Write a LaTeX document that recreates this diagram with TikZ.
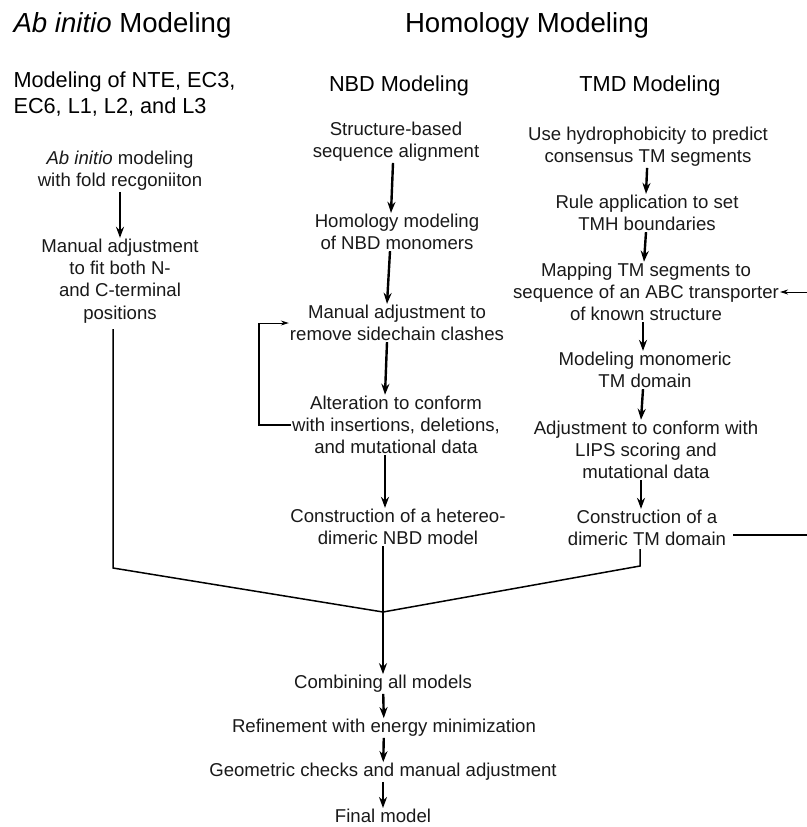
\documentclass[tikz,border=0pt]{standalone}
\usepackage{fontspec}
\setmainfont{Liberation Sans}
\usetikzlibrary{arrows.meta, positioning}
\newcommand{\TitleFont}{\fontsize{27.6}{32}\selectfont}
\newcommand{\HeadFont}{\fontsize{21.7}{26.5}\selectfont}
\newcommand{\StepFont}{\fontsize{18.6}{22.2}\selectfont}

\begin{document}
\begin{tikzpicture}[x=1pt, y=-1pt,
    stage/.style={align=center, inner sep=1pt, font=\StepFont, text=black!90},
    flow/.style={-{Stealth[length=11pt, width=8pt]}, line width=2.4pt},
    back/.style={-{Stealth[length=8pt, width=5pt]}, line width=1pt},
    merge/.style={line width=1.5pt}]
    \useasboundingbox (0,0) rectangle (806,827);

    % Headings
    \node[anchor=west, font=\TitleFont] (abhead) at (10,25) {\textit{Ab initio} Modeling};
    \node[font=\TitleFont] (homhead) at (527,25) {Homology Modeling};
    \node[anchor=west, align=left, font=\HeadFont] (loophead) at (10,94) {Modeling of NTE, EC3,\\EC6, L1, L2, and L3};
    \node[font=\HeadFont] (nbdhead) at (399,86) {NBD Modeling};
    \node[font=\HeadFont] (tmdhead) at (650,86) {TMD Modeling};

    % Ab initio column
    \node[stage] (ab1) at (120,171) {\textit{Ab initio} modeling\\with fold recgoniiton};
    \node[stage] (ab2) at (120,281) {Manual adjustment\\to fit both N-\\and C-terminal\\positions};

    % NBD column
    \node[stage] (nbd1) at (396,142) {Structure-based\\sequence alignment};
    \node[stage] (nbd2) at (397,232) {Homology modeling\\of NBD monomers};
    \node[stage] (nbd3) at (397,323) {Manual adjustment to\\remove sidechain clashes};
    \node[stage] (nbd4) at (396,425) {Alteration to conform\\with insertions, deletions,\\and mutational data};
    \node[stage] (nbd5) at (398,527) {Construction of a hetereo-\\dimeric NBD model};

    % TMD column
    \node[stage] (tmd1) at (648,147) {Use hydrophobicity to predict\\consensus TM segments};
    \node[stage] (tmd2) at (647,213) {Rule application to set\\TMH boundaries};
    \node[stage] (tmd3) at (646,292) {Mapping TM segments to\\sequence of an ABC transporter\\of known structure};
    \node[stage] (tmd4) at (645,370) {Modeling monomeric\\TM domain};
    \node[stage] (tmd5) at (646,450) {Adjustment to conform with\\LIPS scoring and\\mutational data};
    \node[stage] (tmd6) at (647,528) {Construction of a\\dimeric TM domain};

    % Final steps
    \node[stage] (comb) at (383,684) {Combining all models};
    \node[stage] (refine) at (384,728) {Refinement with energy minimization};
    \node[stage] (geom) at (383,772) {Geometric checks and manual adjustment};
    \node[stage] (final) at (383,816) {Final model};

    % Connectors
    \draw[flow] (ab1) -- (ab2);
    \draw[flow] ([xshift=-3pt]nbd1.south) -- ([xshift=-6pt]nbd2.north);
    \draw[flow] ([xshift=-7pt]nbd2.south) -- ([xshift=-10pt]nbd3.north);
    \draw[flow] ([xshift=-10pt]nbd3.south) -- ([xshift=-11pt]nbd4.north);
    \draw[flow] ([xshift=-11pt]nbd4.south) -- ([xshift=-13pt]nbd5.north);
    \draw[line width=2.4pt] (nbd4.west) -- ++(-32,0) coordinate (leftturn) -- (leftturn |- nbd3.west);
    \draw[back] (leftturn |- nbd3.west) -- (nbd3.west);

    \draw[flow] (tmd1) -- ([xshift=-1pt]tmd2.north);
    \draw[flow] ([xshift=-1pt]tmd2.south) -- ([xshift=-2pt]tmd3.north);
    \draw[flow] ([xshift=-3pt]tmd3.south) -- ([xshift=-2pt]tmd4.north);
    \draw[flow] ([xshift=-2pt]tmd4.south) -- ([xshift=-5pt]tmd5.north);
    \draw[flow] ([xshift=-5pt]tmd5.south) -- ([xshift=-6pt]tmd6.north);
    \draw[line width=2.2pt] ([xshift=6pt, yshift=-7pt]tmd6.east) -- ++(95,0) coordinate (rightturn);
    \draw[line width=2.2pt] (rightturn) -- (rightturn |- tmd3.east);
    \draw[back] (rightturn |- tmd3.east) -- (tmd3.east);

    \coordinate (hub) at (383,612);
    \coordinate (abbend) at (113,568);
    \coordinate (tmbend) at (640,566);
    \draw[merge] ([xshift=-7pt, yshift=-5pt]ab2.south) -- (abbend) -- (hub);
    \draw[merge] ([xshift=-7pt, yshift=-2pt]tmd6.south) -- (tmbend) -- (hub);
    \draw[flow] (nbd5.south -| hub) -- (comb.north -| hub);

    \draw[flow] (comb) -- (refine);
    \draw[flow] (refine) -- (geom);
    \draw[flow] (geom) -- (final);
\end{tikzpicture}
\end{document}
